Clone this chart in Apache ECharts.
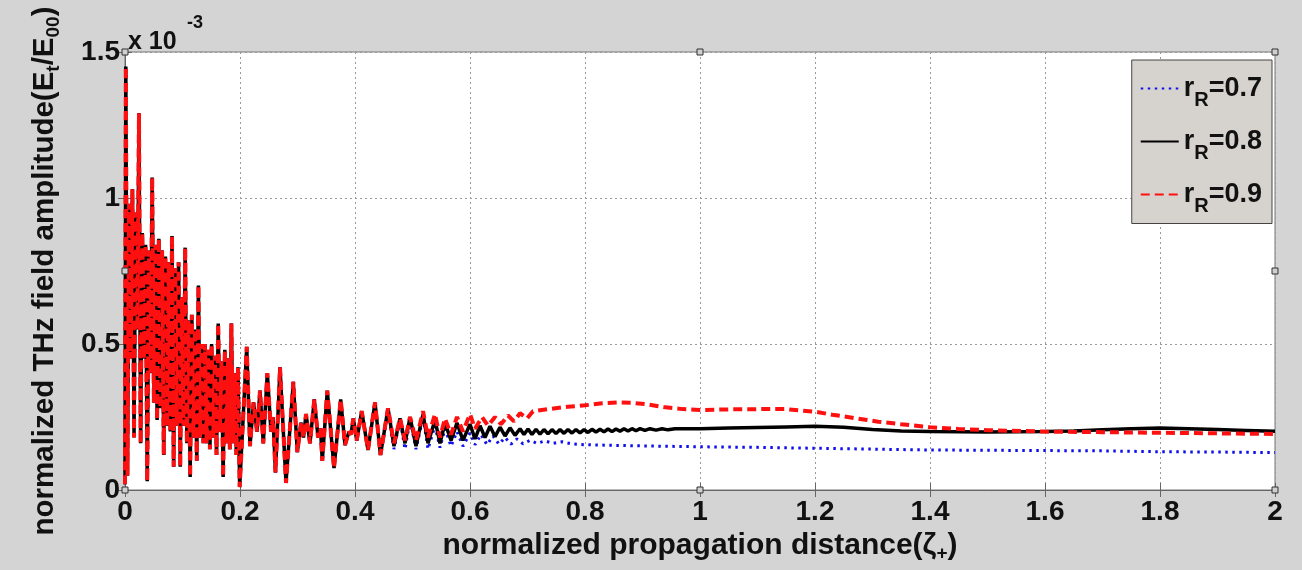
<!DOCTYPE html>
<html>
<head>
<meta charset="utf-8">
<script src="https://cdn.jsdelivr.net/npm/echarts@6.0.0/dist/echarts.min.js"></script>
<style>
html, body { margin: 0; padding: 0; background: #d4d4d4; }
#main { width: 1302px; height: 570px; }
</style>
</head>
<body>
<div id="main"></div>
<script>
// amplitudes are in units of 1e-3 (axis shows "x 10^-3")
// start of the curve, same for all three r_R values
var xEarly = [0, 0.0014, 0.0043, 0.0071, 0.0100, 0.0129, 0.0157, 0.0186, 0.0215, 0.0243,
  0.0272, 0.0301, 0.0330, 0.0358, 0.0387, 0.0416, 0.0444, 0.0473, 0.0502, 0.0530,
  0.0559, 0.0588, 0.0617, 0.0645, 0.0674, 0.0703, 0.0731, 0.0760, 0.0789, 0.0817,
  0.0846, 0.0875, 0.0903, 0.0932, 0.0961, 0.0990, 0.1018, 0.1047, 0.1076, 0.1104,
  0.1133, 0.1162, 0.1190, 0.1219, 0.1248, 0.1277, 0.1305, 0.1334, 0.1363, 0.1391,
  0.1420, 0.1449, 0.1477, 0.1506, 0.1535, 0.1563, 0.1592, 0.1621, 0.1650, 0.1678,
  0.1707, 0.1736, 0.1764, 0.1793, 0.1822, 0.1850, 0.1879, 0.1908, 0.1937, 0.1965,
  0.1994,
  0.2117, 0.2174, 0.2235, 0.2296, 0.2348, 0.2405, 0.2475, 0.2539, 0.2574, 0.2617,
  0.2696, 0.2800, 0.2927, 0.2997, 0.3061, 0.3104, 0.3148, 0.3217, 0.3292, 0.3357,
  0.3400, 0.3431, 0.3518, 0.3635, 0.3751, 0.3826, 0.3896, 0.3930, 0.3970, 0.4030,
  0.4117, 0.4226, 0.4348, 0.4443];
var yEarly = [0.02, 1.45, 0.05, 0.98, 0.45, 1.03, 0.18, 0.95, 0.55, 1.29,
  0.16, 0.88, 0.45, 0.84, 0.03, 0.82, 0.40, 1.07, 0.30, 0.84,
  0.24, 0.86, 0.28, 0.82, 0.12, 0.80, 0.22, 0.78, 0.20, 0.87,
  0.08, 0.76, 0.22, 0.78, 0.08, 0.66, 0.22, 0.83, 0.16, 0.58,
  0.045, 0.60, 0.18, 0.55, 0.10, 0.70, 0.18, 0.50, 0.16, 0.50,
  0.16, 0.48, 0.14, 0.50, 0.18, 0.46, 0.12, 0.57, 0.20, 0.44,
  0.045, 0.48, 0.16, 0.45, 0.14, 0.57, 0.16, 0.40, 0.12, 0.42,
  0.01,
  0.49, 0.15, 0.30, 0.20, 0.34, 0.16, 0.40, 0.20, 0.25, 0.06,
  0.42, 0.024, 0.37, 0.13, 0.23, 0.18, 0.26, 0.16, 0.31, 0.18,
  0.21, 0.10, 0.34, 0.075, 0.31, 0.154, 0.20, 0.19, 0.245, 0.17,
  0.27, 0.137, 0.30, 0.12];

// r_R = 0.7
var xBlue = [0.4574, 0.4678, 0.4783, 0.4870, 0.4957, 0.5061, 0.5183, 0.5270, 0.5391, 0.5478,
  0.5565, 0.5670, 0.5774, 0.5878, 0.6000, 0.6087, 0.6191, 0.6296, 0.6400, 0.6504,
  0.6609, 0.6713, 0.6817, 0.6922, 0.7043, 0.7165, 0.7304, 0.7443, 0.7600, 0.7774,
  0.80, 0.85, 0.90, 1.0, 1.1, 1.2, 1.3, 1.4, 1.5, 1.6, 1.7, 1.8, 1.9, 2.0];
var yBlue = [0.27, 0.14, 0.24, 0.14, 0.24, 0.14, 0.25, 0.14, 0.22, 0.145,
  0.21, 0.15, 0.20, 0.15, 0.195, 0.155, 0.19, 0.155, 0.185, 0.157,
  0.18, 0.157, 0.175, 0.158, 0.17, 0.16, 0.168, 0.16, 0.165, 0.158,
  0.155, 0.153, 0.151, 0.148, 0.146, 0.143, 0.14, 0.137, 0.136, 0.135, 0.134, 0.131, 0.13, 0.128];

// r_R = 0.8
var xBlack = [0.4574, 0.4678, 0.4783, 0.4870, 0.4957, 0.5061, 0.5183, 0.5270, 0.5391, 0.5478,
  0.5565, 0.5670, 0.5774, 0.5878, 0.6000, 0.6087, 0.6174, 0.6261, 0.6348, 0.6435,
  0.6522, 0.6609, 0.6696, 0.6783, 0.6870, 0.6939, 0.7009, 0.7078, 0.7148, 0.7217,
  0.7287, 0.7357, 0.7426, 0.7496, 0.7565, 0.7635, 0.7704, 0.7774, 0.7843, 0.7913,
  0.7983, 0.8052, 0.8122, 0.8191, 0.8261, 0.8330, 0.8400, 0.8470, 0.8539, 0.8609,
  0.8678, 0.8748, 0.8817, 0.8887, 0.8957, 0.9043, 0.9130, 0.9235, 0.9339, 0.9443,
  0.9565, 1.0, 1.05, 1.1, 1.15, 1.2, 1.25, 1.3, 1.35, 1.4,
  1.5, 1.6, 1.65, 1.7, 1.75, 1.8, 1.85, 1.9, 1.95, 2.0];
var yBlack = [0.28, 0.15, 0.245, 0.16, 0.25, 0.15, 0.26, 0.16, 0.24, 0.16,
  0.23, 0.17, 0.23, 0.17, 0.225, 0.175, 0.22, 0.18, 0.218, 0.183,
  0.215, 0.185, 0.213, 0.187, 0.21, 0.19, 0.209, 0.19, 0.208, 0.191,
  0.207, 0.192, 0.207, 0.193, 0.207, 0.194, 0.207, 0.195, 0.207, 0.196,
  0.207, 0.197, 0.208, 0.198, 0.208, 0.199, 0.209, 0.2, 0.209, 0.201,
  0.21, 0.202, 0.21, 0.203, 0.21, 0.204, 0.21, 0.205, 0.21, 0.206,
  0.21, 0.21, 0.212, 0.214, 0.216, 0.218, 0.215, 0.207, 0.202, 0.2,
  0.199, 0.2, 0.202, 0.206, 0.21, 0.212, 0.21, 0.207, 0.204, 0.201];

// r_R = 0.9
var xRed = [0.4574, 0.4678, 0.4783, 0.4870, 0.4957, 0.5061, 0.5183, 0.5270, 0.5391, 0.5478,
  0.5565, 0.5670, 0.5774, 0.5878, 0.6000, 0.6087, 0.6209, 0.6313, 0.6435, 0.6539,
  0.6661, 0.6765, 0.6870, 0.6991, 0.7096, 0.74, 0.77, 0.80, 0.83, 0.86,
  0.88, 0.91, 0.94, 0.97, 1.00, 1.05, 1.10, 1.15, 1.20, 1.23,
  1.27, 1.31, 1.35, 1.40, 1.45, 1.50, 1.60, 1.70, 1.80, 1.90, 2.00];
var yRed = [0.28, 0.16, 0.245, 0.17, 0.25, 0.17, 0.27, 0.18, 0.26, 0.18,
  0.245, 0.19, 0.25, 0.20, 0.26, 0.21, 0.25, 0.22, 0.25, 0.225,
  0.255, 0.235, 0.263, 0.245, 0.27, 0.278, 0.285, 0.29, 0.297, 0.30,
  0.299, 0.293, 0.283, 0.277, 0.274, 0.276, 0.277, 0.277, 0.268, 0.258,
  0.246, 0.234, 0.225, 0.215, 0.209, 0.205, 0.2, 0.198, 0.196, 0.194, 0.192];

var names = ['0.7', '0.8', '0.9'];

function pairs(xs, ys) {
    return xs.map(function (x, i) { return [x, ys[i]]; });
}
var early = pairs(xEarly, yEarly);

var FONT = '"Liberation Sans", Arial, sans-serif';
var tickFmt = function (v) { return String(+v.toFixed(1)); };

var myChart = echarts.init(document.getElementById('main'));
var option = {
    backgroundColor: '#d4d4d4',
    animation: false,
    grid: {
        left: 125, right: 27, top: 52, bottom: 80,
        show: true, backgroundColor: '#ffffff', borderColor: '#777', borderWidth: 1
    },
    legend: {
        orient: 'vertical',
        right: 30,
        top: 60,
        backgroundColor: '#d6d3ce',
        borderColor: '#444',
        borderWidth: 1,
        borderRadius: 0,
        padding: [15, 10, 7, 8],
        itemWidth: 38,
        itemHeight: 14,
        itemGap: 17.5,
        itemStyle: { opacity: 0 },
        formatter: function (n) { return '{a|r}{s|R}{a|=' + n + '}'; },
        textStyle: {
            rich: {
                a: { fontFamily: FONT, fontWeight: 'bold', fontSize: 27, color: '#111', lineHeight: 44, verticalAlign: 'middle' },
                s: { fontFamily: FONT, fontWeight: 'bold', fontSize: 20, color: '#111', lineHeight: 16, verticalAlign: 'bottom' }
            }
        }
    },
    xAxis: [{
        type: 'value', min: 0, max: 2, interval: 0.2,
        name: '{a|normalized propagation distance(ζ}{s|+}{a|)}',
        nameLocation: 'middle', nameGap: 37,
        nameTextStyle: {
            rich: {
                a: { fontFamily: FONT, fontWeight: 'bold', fontSize: 30, color: '#111', lineHeight: 34, verticalAlign: 'middle' },
                s: { fontFamily: FONT, fontWeight: 'bold', fontSize: 19, color: '#111', lineHeight: 14, verticalAlign: 'bottom' }
            }
        },
        axisLine: { lineStyle: { color: '#666' } },
        axisTick: { inside: true, length: 7, lineStyle: { color: '#666' } },
        axisLabel: { formatter: tickFmt, margin: 8, fontFamily: FONT, fontWeight: 'bold', fontSize: 28, color: '#111' },
        splitLine: { lineStyle: { color: '#9a9a9a', type: [2, 3] } }
    }, {
        type: 'value', min: 0, max: 2, interval: 0.2, position: 'top',
        axisLine: { lineStyle: { color: '#666' } },
        axisTick: { inside: true, length: 7, lineStyle: { color: '#666' } },
        axisLabel: { show: false },
        splitLine: { show: false }
    }],
    yAxis: [{
        type: 'value', min: 0, max: 1.5, interval: 0.5,
        name: '{a|normalized THz field amplitude(E}{s|t}{a|/E}{s|00}{a|)}',
        nameLocation: 'middle', nameRotate: 90, nameGap: 62,
        nameTextStyle: {
            rich: {
                a: { fontFamily: FONT, fontWeight: 'bold', fontSize: 29.5, color: '#111', lineHeight: 36, verticalAlign: 'middle' },
                s: { fontFamily: FONT, fontWeight: 'bold', fontSize: 19, color: '#111', lineHeight: 16, verticalAlign: 'bottom' }
            }
        },
        axisLine: { show: true, lineStyle: { color: '#666' } },
        axisTick: { show: true, inside: true, length: 7, lineStyle: { color: '#666' } },
        axisLabel: { formatter: tickFmt, margin: 5, fontFamily: FONT, fontWeight: 'bold', fontSize: 28, color: '#111' },
        splitLine: { lineStyle: { color: '#9a9a9a', type: [2, 3] } }
    }, {
        type: 'value', min: 0, max: 1.5, interval: 0.5, position: 'right',
        axisLine: { show: true, lineStyle: { color: '#666' } },
        axisTick: { show: true, inside: true, length: 7, lineStyle: { color: '#666' } },
        axisLabel: { show: false },
        splitLine: { show: false }
    }],
    graphic: [
        { type: 'text', id: 'exp1', left: 128, top: 30, style: { text: 'x 10', fontFamily: FONT, fontWeight: 'bold', fontSize: 25, fill: '#111' } },
        { type: 'text', id: 'exp2', left: 187, top: 14, style: { text: '-3', fontFamily: FONT, fontWeight: 'bold', fontSize: 18, fill: '#111' } }
    ],
    series: [{
        name: names[0],
        type: 'line',
        symbol: 'none',
        data: early.concat(pairs(xBlue, yBlue)),
        itemStyle: { color: '#1010ee' },
        lineStyle: { color: '#1010ee', width: 3, type: [2.5, 4.5] }
    }, {
        name: names[1],
        type: 'line',
        symbol: 'none',
        data: early.concat(pairs(xBlack, yBlack)),
        itemStyle: { color: '#000000' },
        lineStyle: { color: '#000000', width: 3.5, type: 'solid' }
    }, {
        name: names[2],
        type: 'line',
        symbol: 'none',
        data: early.concat(pairs(xRed, yRed)),
        itemStyle: { color: '#ff1010' },
        lineStyle: { color: '#ff1010', width: 4, type: [9, 5] }
    }]
};
myChart.setOption(option);

// small square handles on the axes box
var handlePts = [[0, 0], [1, 0], [2, 0], [0, 0.75], [2, 0.75], [0, 1.5], [1, 1.5], [2, 1.5]];
var handles = handlePts.map(function (p, i) {
    var px = myChart.convertToPixel({ gridIndex: 0 }, p);
    return {
        type: 'rect', id: 'h' + i, z: 100,
        shape: { x: px[0] - 3, y: px[1] - 3, width: 6, height: 6 },
        style: { fill: '#cfcfcf', stroke: '#333', lineWidth: 1 }
    };
});
myChart.setOption({ graphic: handles });
</script>
</body>
</html>
